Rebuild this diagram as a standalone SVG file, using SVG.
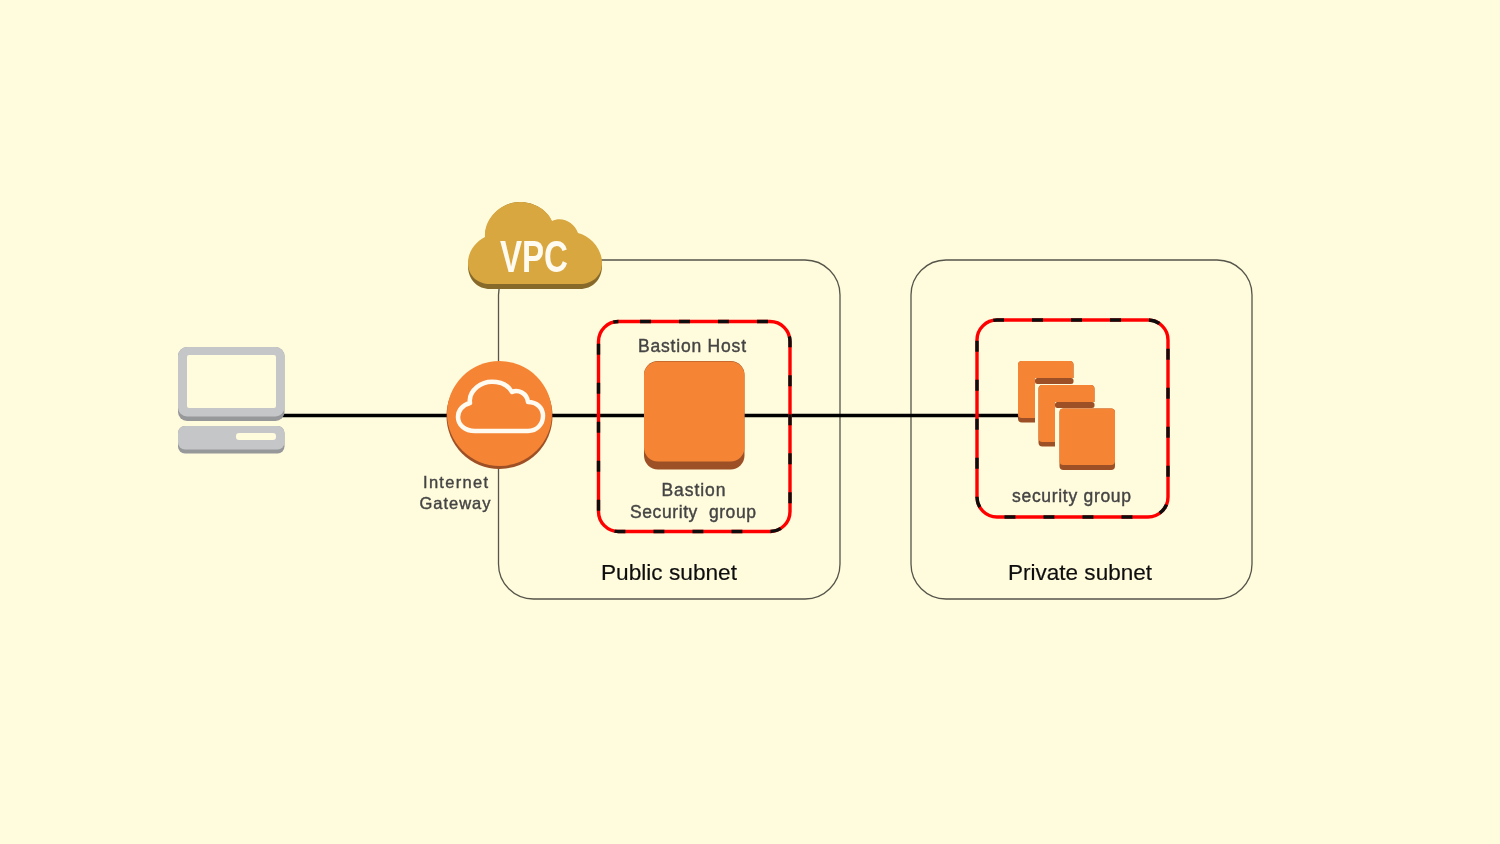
<svg xmlns="http://www.w3.org/2000/svg" width="1500" height="844" viewBox="0 0 1500 844">
<defs>
<filter id="soft" filterUnits="userSpaceOnUse" x="0" y="0" width="1500" height="844"><feGaussianBlur stdDeviation="0.55"/></filter>
<style>
.subnet{fill:none;stroke:#55554a;stroke-width:1.3}
.sgred{fill:none;stroke:#f00;stroke-width:3.4}
.sgdash{fill:none;stroke:#111;stroke-width:3.4;stroke-dasharray:11 28}
.conn{stroke:#050505;stroke-width:3.5;fill:none}
.org{fill:#f58536}.orgd{fill:#9d5025}
.lbl{font-family:"Liberation Sans",Arial,sans-serif;fill:#444;font-size:17.5px;text-anchor:middle;stroke:#444;stroke-width:.4;white-space:pre}
.sub{font-family:"Liberation Sans",Arial,sans-serif;fill:#111;font-size:22px;text-anchor:middle;stroke:#111;stroke-width:.2}
.gray{fill:#c5c6c8}.grayd{fill:#97989a}
</style>
</defs>
<rect width="1500" height="844" fill="#fffbdd"/>
<g filter="url(#soft)">
<g id="public-subnet"><rect class="subnet" x="498.500" y="260" width="341.500" height="339" rx="35"/><text class="sub" x="669" y="580" textLength="136" lengthAdjust="spacingAndGlyphs">Public subnet</text></g>
<g id="private-subnet"><rect class="subnet" x="911" y="260" width="341" height="339" rx="35"/><text class="sub" x="1080" y="580" textLength="144" lengthAdjust="spacingAndGlyphs">Private subnet</text></g>
<g id="connectors"><path class="conn" d="M282 415.500H1022"/></g>
<g id="client">
<rect class="grayd" x="178" y="347" width="106.500" height="74" rx="9"/>
<rect class="gray" x="178" y="347" width="106.500" height="69.500" rx="9"/>
<rect x="187" y="355" width="89" height="53" rx="2" fill="#fffbdd"/>
<rect class="grayd" x="178" y="426" width="106.500" height="27.500" rx="7"/>
<rect class="gray" x="178" y="426" width="106.500" height="23.500" rx="7"/>
<rect x="236" y="433" width="40" height="7" rx="3" fill="#fffbdd"/>
</g>
<g id="internet-gateway">
<circle class="orgd" cx="499.500" cy="416" r="53"/>
<circle class="org" cx="499.500" cy="413.500" r="52.500"/>
<path d="M475 431H528C537 431 543 424 543 416C543 408 537 402 528 402C527 393 518 389 512 392C506 381 488 378 477 387C471 392 469 397 470 403C462 405 458 411 458 417C458 425 465 431 475 431Z" fill="none" stroke="#fffbf0" stroke-width="4.500" stroke-linejoin="round"/>
<text class="lbl" x="455.500" y="487.500" style="font-size:16.500px" textLength="65" lengthAdjust="spacing">Internet</text>
<text class="lbl" x="455" y="509" style="font-size:16.500px" textLength="71" lengthAdjust="spacing">Gateway</text>
</g>
<g id="vpc">
<path fill="#876b2c" d="M468 266C468 255 475 244 485 240C484 218 502 202 520 202C535 202 548 211 552 222C562 217 574 222 578 235C590 237 602 250 602 266C602 280 592 289 580 289H490C478 289 468 280 468 266Z"/>
<path fill="#d9a741" d="M468 263C468 252 475 242 485 237C484 217 502 202 520 202C535 202 548 211 552 221C562 216 574 222 578 233C590 236 602 248 602 263C602 276 592 284 580 284H490C478 284 468 276 468 263Z"/>
<text x="534" y="272" font-family="'Liberation Sans Narrow','Liberation Sans',Arial,sans-serif" font-size="44" font-weight="bold" fill="#fffbf0" text-anchor="middle" textLength="68" lengthAdjust="spacingAndGlyphs">VPC</text>
</g>
<g id="bastion-sg">
<rect class="sgred" x="598.500" y="321.500" width="191.500" height="210" rx="20"/>
<rect class="sgdash" x="598.500" y="321.500" width="191.500" height="210" rx="20" stroke-dashoffset="-21.500"/>
<text class="lbl" x="693.500" y="496" textLength="64" lengthAdjust="spacing">Bastion</text>
<text class="lbl" x="693" y="518" textLength="126" lengthAdjust="spacing">Security  group</text>
</g>
<g id="bastion-host">
<text class="lbl" x="692" y="352" textLength="108" lengthAdjust="spacing">Bastion Host</text>
<rect class="orgd" x="644" y="361" width="100.500" height="108.500" rx="14"/>
<rect class="org" x="644" y="361.500" width="100.500" height="100" rx="14"/>
</g>
<g id="private-sg">
<rect class="sgred" x="977" y="320" width="191" height="197" rx="20"/>
<rect class="sgdash" x="977" y="320" width="191" height="197" rx="20" stroke-dashoffset="-35"/>
<text class="lbl" x="1071.500" y="502" textLength="119" lengthAdjust="spacing">security group</text>
</g>
<g id="instances">
<rect class="orgd" x="1018" y="361" width="55.500" height="61.500" rx="4"/>
<rect class="org" x="1018" y="361" width="55.500" height="57" rx="4"/>
<rect x="1035" y="378" width="40" height="46" fill="#fffbdd"/>
<rect class="orgd" x="1035" y="378" width="38.500" height="6" rx="2.500"/>
<rect class="orgd" x="1038.500" y="385" width="56" height="61.500" rx="4"/>
<rect class="org" x="1038.500" y="385" width="56" height="57" rx="4"/>
<rect x="1055" y="402" width="41" height="46" fill="#fffbdd"/>
<rect class="orgd" x="1055" y="402" width="39.500" height="6" rx="2.500"/>
<rect class="orgd" x="1059.500" y="408.500" width="55.500" height="61.500" rx="4"/>
<rect class="org" x="1059.500" y="408.500" width="55.500" height="56.500" rx="4"/>
</g>
</g>
</svg>
